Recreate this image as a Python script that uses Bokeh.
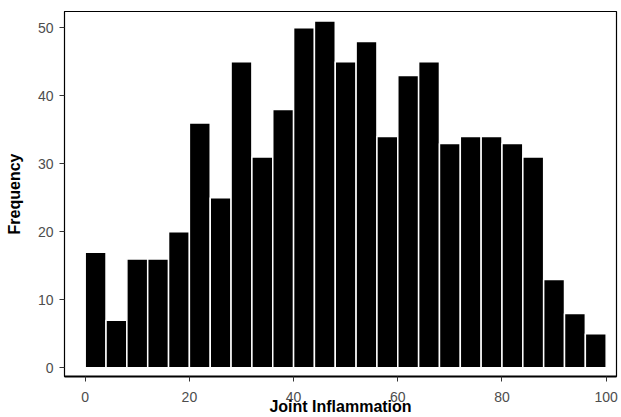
from bokeh.plotting import figure
from bokeh.models import Range1d, FixedTicker
from bokeh.embed import file_html
from bokeh.resources import INLINE

# Histogram data (bin edges every 4 units from 0 to 100)
bin_left = [0, 4, 8, 12, 16, 20, 24, 28, 32, 36, 40, 44, 48, 52, 56, 60, 64, 68, 72, 76, 80, 84, 88, 92, 96]
bin_right = [4, 8, 12, 16, 20, 24, 28, 32, 36, 40, 44, 48, 52, 56, 60, 64, 68, 72, 76, 80, 84, 88, 92, 96, 100]
counts = [17, 7, 16, 16, 20, 36, 25, 45, 31, 38, 50, 51, 45, 48, 34, 43, 45, 33, 34, 34, 33, 31, 13, 8, 5]
x_ticks = [0, 20, 40, 60, 80, 100]
y_ticks = [0, 10, 20, 30, 40, 50]
x_title = "Joint Inflammation"
y_title = "Frequency"

p = figure(width=621, height=417, output_backend="svg", toolbar_location=None,
           x_range=Range1d(-3.97, 101.98), y_range=Range1d(-1.28, 52.4),
           min_border_left=64, min_border_right=5, min_border_top=11, min_border_bottom=41)

p.quad(left=bin_left, right=bin_right, bottom=[0] * len(counts), top=counts,
       fill_color="black", line_color="white", line_width=1.5)

p.xgrid.visible = False
p.ygrid.visible = False
p.outline_line_color = "black"
p.outline_line_width = 1.2
p.background_fill_color = "white"
p.border_fill_color = "white"

p.xaxis.ticker = FixedTicker(ticks=x_ticks)
p.yaxis.ticker = FixedTicker(ticks=y_ticks)
p.xaxis.axis_label = x_title
p.yaxis.axis_label = y_title

for ax in (p.xaxis, p.yaxis):
    ax.axis_label_text_font = "Liberation Sans"
    ax.axis_label_text_font_style = "bold"
    ax.axis_label_text_font_size = "16px"
    ax.axis_label_text_color = "black"
    ax.major_label_text_font = "Liberation Sans"
    ax.major_label_text_font_size = "14px"
    ax.major_label_text_color = "#4d4d4d"
    ax.major_tick_line_color = "#333333"
    ax.major_tick_in = 0
    ax.major_tick_out = 5
    ax.minor_tick_line_color = None

p.xaxis.axis_line_width = 2
p.xaxis.axis_line_color = "black"
p.yaxis.axis_line_width = 1
p.yaxis.axis_line_color = "black"
p.xaxis.major_label_standoff = 10
p.xaxis.axis_label_standoff = -7
p.yaxis.major_label_standoff = 6
p.yaxis.axis_label_standoff = 12

open("out.html", "w").write(file_html(p, INLINE))
